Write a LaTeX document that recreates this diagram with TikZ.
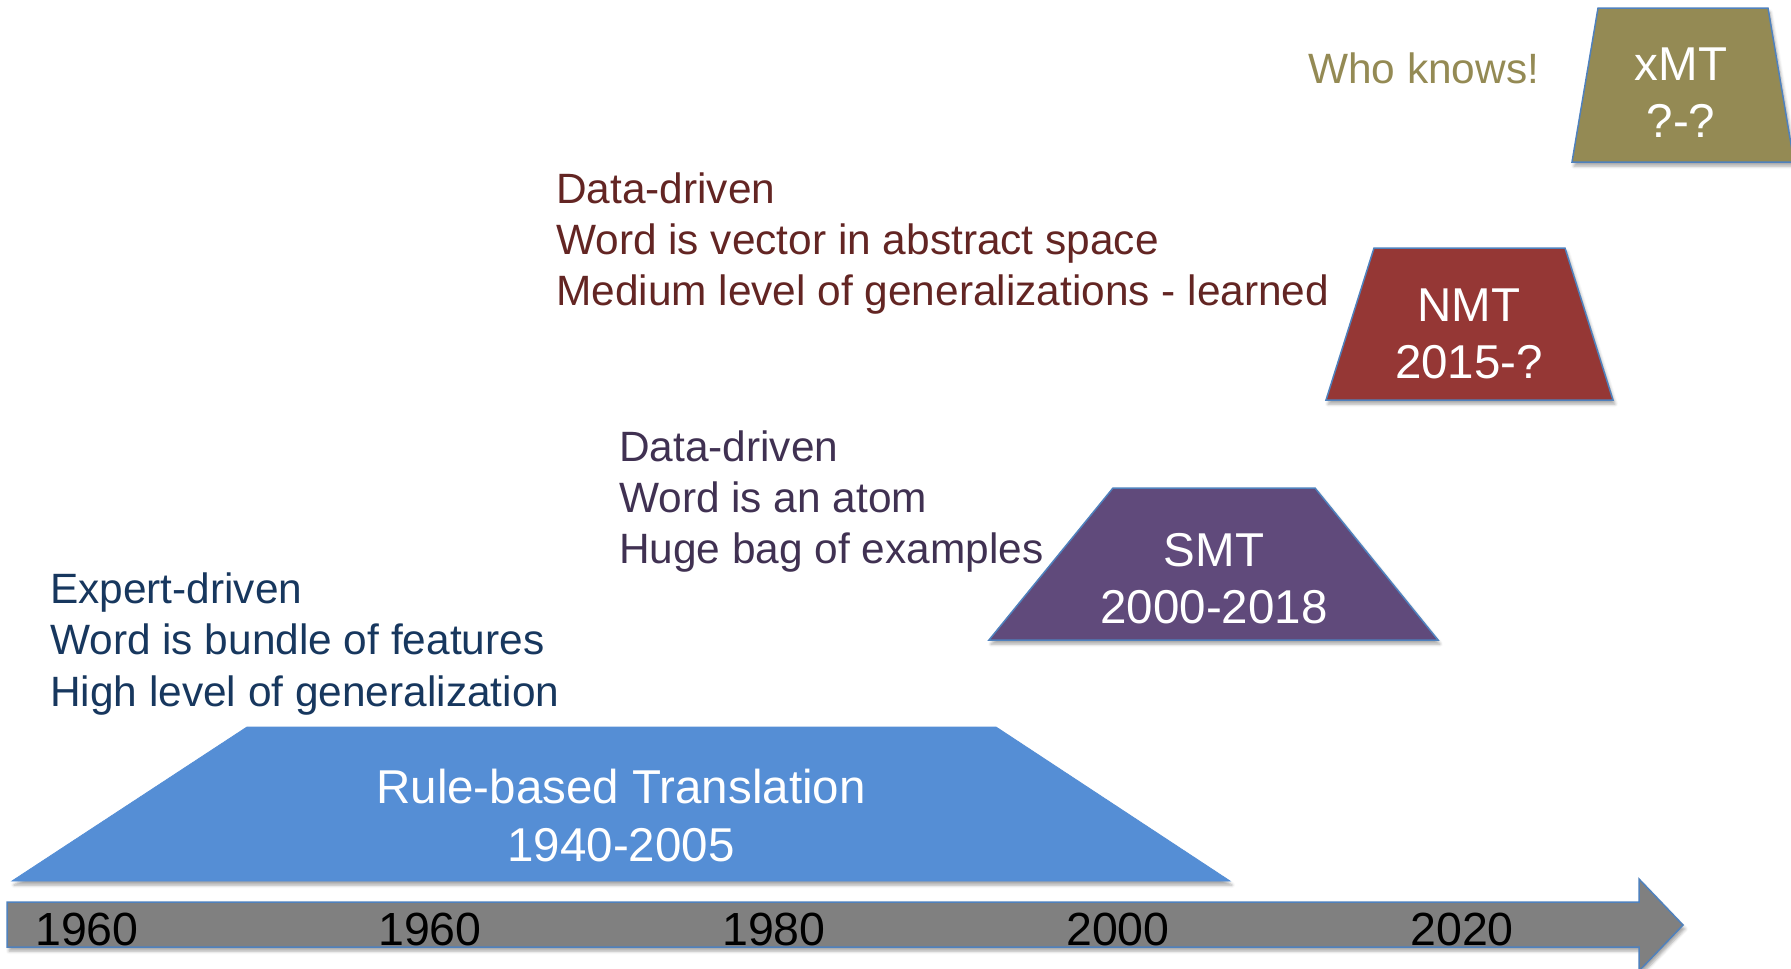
\documentclass[tikz,border=0pt]{standalone}
\usepackage{fontspec}
\setmainfont{Liberation Sans}
\usetikzlibrary{shadows.blur}
\definecolor{rbfill}{RGB}{85,142,213}
\definecolor{smtfill}{RGB}{96,74,123}
\definecolor{nmtfill}{RGB}{149,55,53}
\definecolor{xmtfill}{RGB}{148,138,84}
\definecolor{edgeblue}{RGB}{79,129,189}
\definecolor{axisgray}{RGB}{128,128,128}
\definecolor{navytxt}{RGB}{23,55,94}
\definecolor{purptxt}{RGB}{64,49,82}
\definecolor{redtxt}{RGB}{99,37,35}
\definecolor{olivetxt}{RGB}{148,138,84}
\tikzset{
  shp/.style={line width=1.5pt, line join=miter, blur shadow={shadow xshift=2pt, shadow yshift=-4pt, shadow blur radius=3pt, shadow opacity=35}},
  desc/.style={inner sep=0pt, anchor=base west, font=\fontsize{42.4}{51.4}\selectfont},
  big/.style={inner sep=0pt, anchor=base, text=white, font=\fontsize{47.5}{57}\selectfont},
  yr/.style={inner sep=0pt, anchor=base, text=black, font=\fontsize{46.5}{56}\selectfont},
}
\begin{document}
\begin{tikzpicture}[x=1pt,y=-1pt]
\path[use as bounding box] (0,0) rectangle (1791,969);
\begin{scope}
\clip (0,0) rectangle (1791,969);
% timeline arrow
\path[shp, fill=axisgray, draw=edgeblue]
  (7,902) -- (1639,902) -- (1639,879) -- (1683,925) -- (1639,971) -- (1639,947) -- (7,947) -- cycle;
% rule-based
\path[shp, fill=rbfill, draw=rbfill, line width=0.8pt]
  (12,881) -- (247,727) -- (996,727) -- (1230,881) -- cycle;
% SMT
\path[shp, fill=smtfill, draw=edgeblue]
  (989,640) -- (1113,488) -- (1315,488) -- (1438,640) -- cycle;
% NMT
\path[shp, fill=nmtfill, draw=edgeblue]
  (1326,400) -- (1374,248) -- (1565,248) -- (1613,400) -- cycle;
% xMT
\path[shp, fill=xmtfill, draw=edgeblue]
  (1572,162) -- (1598,8) -- (1768,8) -- (1794,162) -- cycle;
\end{scope}
% axis labels
\node[yr] (y1) at (87,945) {1960};
\node[yr] (y2) at (430,945) {1960};
\node[yr] (y3) at (774,945) {1980};
\node[yr] (y4) at (1118,945) {2000};
\node[yr] (y5) at (1462,945) {2020};
% box labels
\node[big] (rb1) at (621,803) {Rule-based Translation};
\node[big] (rb2) at (621,861) {1940-2005};
\node[big] (smt1) at (1214,566) {SMT};
\node[big] (smt2) at (1214,623) {2000-2018};
\node[big] (nmt1) at (1469,321) {NMT};
\node[big] (nmt2) at (1469,378) {2015-?};
\node[big] (xmt1) at (1681,80) {xMT};
\node[big] (xmt2) at (1681,137) {?-?};
% descriptions
\node[desc, text=navytxt] (e1) at (50,603) {Expert-driven};
\node[desc, text=navytxt] (e2) at (50,654.5) {Word is bundle of features};
\node[desc, text=navytxt] (e3) at (50,706) {High level of generalization};
\node[desc, text=purptxt] (s1) at (619,461) {Data-driven};
\node[desc, text=purptxt] (s2) at (619,512) {Word is an atom};
\node[desc, text=purptxt] (s3) at (619,563) {Huge bag of examples};
\node[desc, text=redtxt] (n1) at (556,203) {Data-driven};
\node[desc, text=redtxt] (n2) at (556,254) {Word is vector in abstract space};
\node[desc, text=redtxt] (n3) at (556,305) {Medium level of generalizations - learned};
\node[desc, text=olivetxt] (w1) at (1308,83) {Who knows!};
\end{tikzpicture}
\end{document}
